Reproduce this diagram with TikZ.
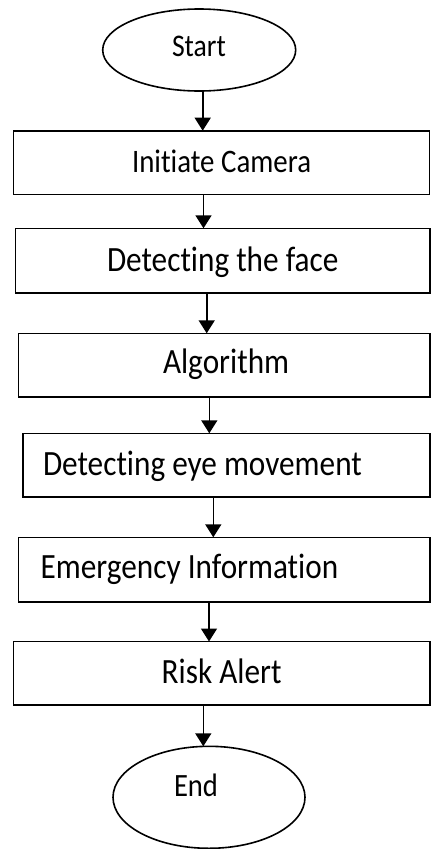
\documentclass[tikz,border=0pt]{standalone}
\usepackage{fontspec}
\setmainfont[FakeStretch=0.88,Ligatures=NoCommon]{Carlito}
\usetikzlibrary{arrows.meta,shapes.geometric}
\begin{document}
\begin{tikzpicture}[x=1pt,y=-1pt,
  every node/.style={inner sep=0pt, outer sep=0pt},
  shapeline/.style={draw=black, line width=1.6pt},
  stepbox/.style={shapeline, rectangle, anchor=north west},
  termnode/.style={shapeline, ellipse},
  txt/.style={anchor=base west, font=\fontsize{35.5}{42}\selectfont},
  arr/.style={line width=1.6pt, -{Triangle[length=13pt,width=16pt]}}]
\useasboundingbox (0,0) rectangle (431,849);

% terminals
\node[termnode, minimum width=193pt, minimum height=82pt] (start) at (199.2,50) {};
\node[termnode, minimum width=192pt, minimum height=102pt] (end) at (209,797.3) {};

% boxes
\node[stepbox, minimum width=416.2pt, minimum height=63.8pt] (b1) at (13.3,130.7) {};
\node[stepbox, minimum width=414.5pt, minimum height=64.4pt] (b2) at (15.5,228.3) {};
\node[stepbox, minimum width=411.7pt, minimum height=63.4pt] (b3) at (18.3,333.3) {};
\node[stepbox, minimum width=407.3pt, minimum height=63.7pt] (b4) at (22.7,433.3) {};
\node[stepbox, minimum width=411.7pt, minimum height=64.4pt] (b5) at (18.3,537.3) {};
\node[stepbox, minimum width=416.7pt, minimum height=63.5pt] (b6) at (13.3,641.5) {};

% texts
\node[txt, font=\fontsize{31.5}{38}\selectfont] (tstart) at (172,56.7) {Start};
\node[txt, font=\fontsize{32.8}{39}\selectfont] (t1) at (132,172) {Initiate Camera};
\node[txt] (t2) at (107,271.7) {Detecting the face};
\node[txt] (t3) at (163,373.3) {Algorithm};
\node[txt] (t4) at (43,475) {Detecting eye movement};
\node[txt] (t5) at (40.7,578.3) {Emergency Information};
\node[txt] (t6) at (161.7,683.3) {Risk Alert};
\node[txt, font=\fontsize{32.5}{39}\selectfont] (tend) at (174,796) {End};

% connector x positions
\coordinate (x0) at (202.7,0);
\coordinate (x1) at (203.5,0);
\coordinate (x2) at (206.7,0);
\coordinate (x3) at (209.3,0);
\coordinate (x4) at (213.3,0);
\coordinate (x5) at (209,0);
\coordinate (x6) at (203.3,0);

\draw[arr] (x0 |- start.south) -- (x0 |- b1.north);
\draw[arr] (x1 |- b1.south) -- (x1 |- b2.north);
\draw[arr] (x2 |- b2.south) -- (x2 |- b3.north);
\draw[arr] (x3 |- b3.south) -- (x3 |- b4.north);
\draw[arr] (x4 |- b4.south) -- (x4 |- b5.north);
\draw[arr] (x5 |- b5.south) -- (x5 |- b6.north);
\draw[arr] (x6 |- b6.south) -- (x6 |- end.north);
\end{tikzpicture}
\end{document}
